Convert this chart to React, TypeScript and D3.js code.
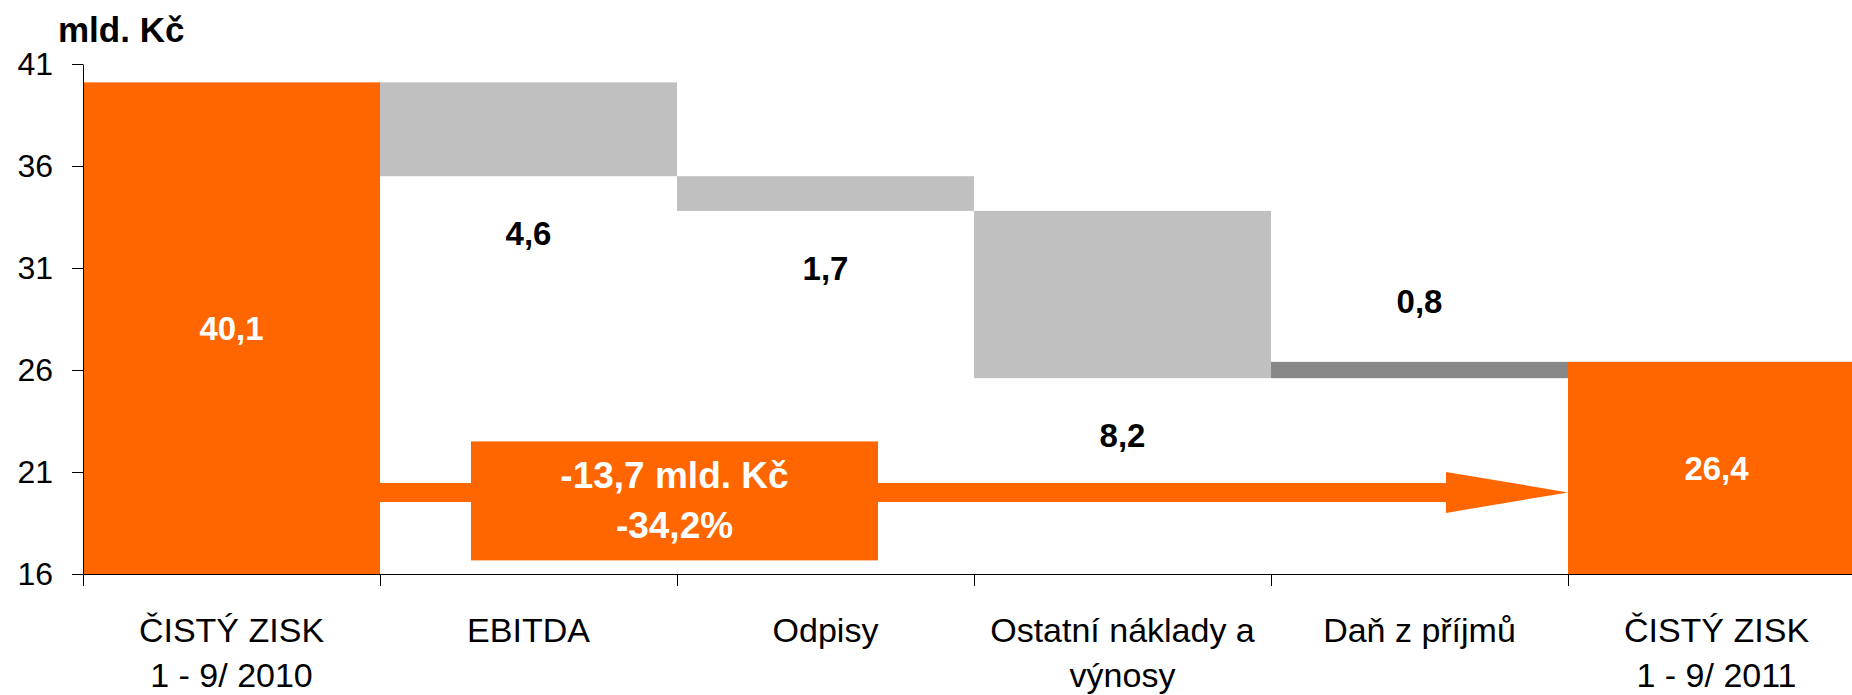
import React, { useEffect, useRef } from 'react';
import * as d3 from 'd3';

// category labels (one entry per line)
const categories: string[][] = [
  ['ČISTÝ ZISK', '1 - 9/ 2010'],
  ['EBITDA'],
  ['Odpisy'],
  ['Ostatní náklady a', 'výnosy'],
  ['Daň z příjmů'],
  ['ČISTÝ ZISK', '1 - 9/ 2011'],
];
// totals are absolute, the rest are changes
const values = [40.1, -4.6, -1.7, -8.2, 0.8, 26.4];
const isTotal = [true, false, false, false, false, true];
const yTicks = [16, 21, 26, 31, 36, 41];
const unitLabel = 'mld. Kč';
const arrowLevel = 20;

const ORANGE = '#FF6600';
const GREY = '#C0C0C0';
const DARK_GREY = '#878787';
const FONT = '"Liberation Sans", Arial, sans-serif';

const locale = d3.formatLocale({
  decimal: ',',
  thousands: ' ',
  grouping: [3],
  currency: ['', ' Kč'],
  minus: '-',
});
const fmt = locale.format('.1f');

export default function App() {
  const svgRef = useRef<SVGSVGElement>(null);

  useEffect(() => {
    const svg = d3.select(svgRef.current);
    svg.selectAll('*').remove();

    const left = 83;
    const band = 297;
    const x = d3
      .scaleBand<number>()
      .domain(d3.range(categories.length))
      .range([left, left + band * categories.length])
      .padding(0);
    const y = d3.scaleLinear().domain([16, 41]).range([574, 64]);

    // running totals for the waterfall
    let run = 0;
    const bars = values.map((v, i) => {
      if (isTotal[i]) {
        run = v;
        return { i, lo: y.domain()[0], hi: v, v, total: true };
      }
      const start = run;
      run += v;
      return { i, lo: Math.min(start, run), hi: Math.max(start, run), v, total: false };
    });

    // bars
    svg
      .append('g')
      .selectAll('rect')
      .data(bars)
      .enter()
      .append('rect')
      .attr('x', d => x(d.i)!)
      .attr('y', d => y(d.hi))
      .attr('width', x.bandwidth())
      .attr('height', d => y(d.lo) - y(d.hi))
      .attr('fill', d => (d.total ? ORANGE : d.v < 0 ? GREY : DARK_GREY));

    // value labels
    svg
      .append('g')
      .selectAll('text')
      .data(bars)
      .enter()
      .append('text')
      .attr('x', d => x(d.i)! + x.bandwidth() / 2)
      .attr('y', d => {
        if (d.total) return (y(d.lo) + y(d.hi)) / 2;
        return d.v < 0 ? y(d.lo) + 69 : y(d.hi) - 49;
      })
      .attr('dy', d => (d.total ? '0.36em' : 0))
      .attr('text-anchor', 'middle')
      .attr('font-family', FONT)
      .attr('font-weight', 'bold')
      .attr('font-size', 33)
      .attr('fill', d => (d.total ? '#fff' : '#000'))
      .text(d => fmt(Math.abs(d.v)));

    // change arrow from first to last total
    const yA = y(arrowLevel);
    const xs = x(1)!;
    const xt = x(categories.length - 1)!;
    const xb = xt - 122;
    svg
      .append('polygon')
      .attr(
        'points',
        [
          [xs, yA - 9.5],
          [xb, yA - 9.5],
          [xb, yA - 20.5],
          [xt, yA],
          [xb, yA + 20.5],
          [xb, yA + 9.5],
          [xs, yA + 9.5],
        ]
          .map(p => p.join(','))
          .join(' ')
      )
      .attr('fill', ORANGE);

    const diff = values[values.length - 1] - values[0];
    const pct = (diff / values[0]) * 100;
    const bx = x(2)! - 206;
    svg
      .append('rect')
      .attr('x', bx)
      .attr('y', yA - 51)
      .attr('width', 407)
      .attr('height', 119)
      .attr('fill', ORANGE);
    const box = svg
      .append('text')
      .attr('text-anchor', 'middle')
      .attr('font-family', FONT)
      .attr('font-weight', 'bold')
      .attr('font-size', 37)
      .attr('fill', '#fff');
    box.append('tspan').attr('x', bx + 203.5).attr('y', yA - 4).text(`${fmt(diff)} ${unitLabel}`);
    box.append('tspan').attr('x', bx + 203.5).attr('y', yA + 46).text(`${fmt(pct)}%`);

    // y axis
    const yAxis = svg
      .append('g')
      .attr('transform', `translate(${left},0)`)
      .call(d3.axisLeft(y).tickValues(yTicks).tickSize(11).tickSizeOuter(0).tickPadding(19));
    yAxis.attr('font-family', FONT).attr('font-size', 32);
    yAxis.selectAll('text').attr('fill', '#000');
    yAxis.selectAll('line, path').attr('stroke', '#000');

    // x axis
    const xAxis = svg.append('g');
    xAxis
      .append('line')
      .attr('x1', left)
      .attr('x2', x.range()[1])
      .attr('y1', y.range()[0] + 0.5)
      .attr('y2', y.range()[0] + 0.5)
      .attr('stroke', '#000');
    xAxis
      .selectAll('.tick')
      .data([...x.domain().map(i => x(i)!), x.range()[1]])
      .enter()
      .append('line')
      .attr('x1', d => d + 0.5)
      .attr('x2', d => d + 0.5)
      .attr('y1', y.range()[0])
      .attr('y2', y.range()[0] + 12)
      .attr('stroke', '#000');
    const labels = xAxis
      .selectAll('.lab')
      .data(categories)
      .enter()
      .append('text')
      .attr('text-anchor', 'middle')
      .attr('font-family', FONT)
      .attr('font-size', 34)
      .attr('fill', '#000');
    labels.each(function (lines, i) {
      const t = d3.select(this);
      lines.forEach((line, k) => {
        t.append('tspan')
          .attr('x', x(i)! + x.bandwidth() / 2)
          .attr('y', 642 + k * 45)
          .text(line);
      });
    });

    // unit title
    svg
      .append('text')
      .attr('x', 58)
      .attr('y', 42)
      .attr('font-family', FONT)
      .attr('font-weight', 'bold')
      .attr('font-size', 35)
      .attr('fill', '#000')
      .text(unitLabel);
  }, []);

  return (
    <svg
      ref={svgRef}
      width={1852}
      height={695}
      style={{ position: 'absolute', left: 0, top: 0, display: 'block', background: '#fff' }}
    />
  );
}
